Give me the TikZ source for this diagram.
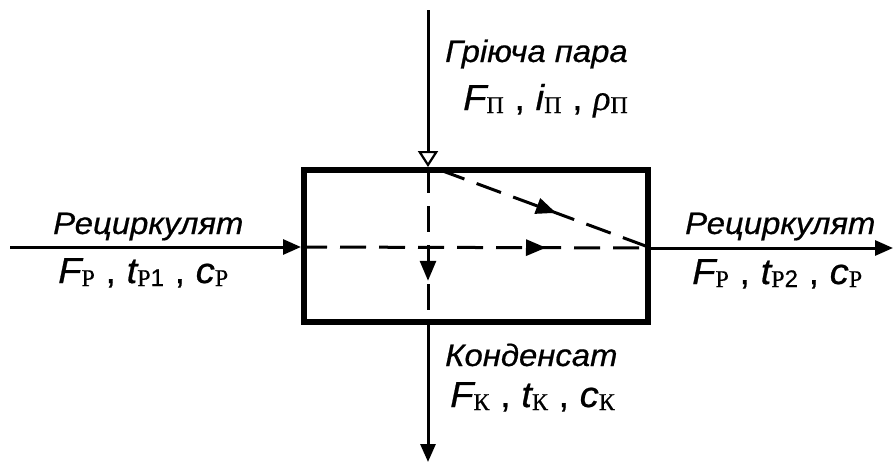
\documentclass[tikz,border=0pt]{standalone}
\usepackage{fontspec}
\setmainfont{Liberation Sans}
\newfontfamily\labfont[FakeStretch=1.06,FakeBold=0.6]{Liberation Sans}
\newfontfamily\digfont[FakeBold=0.4]{Liberation Sans}
\newfontfamily\subfont[FakeBold=0.4]{Liberation Serif}
\usetikzlibrary{arrows.meta,decorations.markings}
\newcommand\myqty[2]{{\labfont\itshape #1}{\subfont\fontsize{24}{24}\selectfont\raisebox{-3pt}{#2}}}
\newcommand\myqtyd[3]{{\labfont\itshape #1}{\subfont\fontsize{24}{24}\selectfont\raisebox{-3pt}{#2{\digfont #3}}}}
\newcommand\myqtyg[2]{{\subfont\itshape #1}{\subfont\fontsize{24}{24}\selectfont\raisebox{-3pt}{#2}}}
\begin{document}
\begin{tikzpicture}[x=1pt,y=-1pt,
  flow/.style={line width=3pt,-{Triangle[length=18pt,width=15pt]}},
  inflow/.style={line width=3pt,-{Triangle[open,length=16pt,width=20pt,line width=2.2pt]}},
  inner/.style={line width=3pt,dash pattern=on 26pt off 13pt,
    postaction={decorate},decoration={markings,mark=at position #1 with {\arrow{Triangle[length=20pt,width=16pt]}}}},
  flowname/.style={anchor=base west,inner sep=0pt,font=\labfont\itshape\fontsize{31}{34}\selectfont},
  flowvals/.style={anchor=base west,inner sep=0pt,font=\labfont\fontsize{36}{40}\selectfont},
  vessel/.style={draw,line width=6pt,minimum width=344pt,minimum height=152pt,inner sep=0pt}]
\useasboundingbox (0,0) rectangle (895,463);
\node[vessel] (b) at (476,246) {};
\coordinate (tin) at (428,10);
\coordinate (lin) at (10,247);
\coordinate (rout) at (893,248);
\coordinate (bout) at (428,462);
\coordinate (bt) at (b.north -| tin);
\coordinate (bb) at (b.south -| tin);
\coordinate (bl) at (b.west |- lin);
\coordinate (br) at (b.east |- rout);
\draw[inflow] (tin) -- (bt);
\draw[flow] (lin) -- (bl);
\draw[flow] (br) -- (rout);
\draw[flow] (bb) -- (bout);
\draw[inner=0.70] (bl) -- (br);
\draw[inner=0.72] (bt) -- (bb);
\draw[inner=0.55] ([xshift=12pt,yshift=-3pt]bt) -- (br);
\node[flowname] (t1) at (445,62) {Гріюча пара};
\node[flowvals] (t2) at (463,110) {\myqty{F}{П} , \myqty{i}{П} , \myqtyg{ρ}{П}};
\node[flowname] (l1) at (53,234) {Рециркулят};
\node[flowvals] (l2) at (58,283) {\myqty{F}{Р} , \myqtyd{t}{Р}{1} , \myqty{c}{Р}};
\node[flowname] (r1) at (685,234) {Рециркулят};
\node[flowvals] (r2) at (692,284) {\myqty{F}{Р} , \myqtyd{t}{Р}{2} , \myqty{c}{Р}};
\node[flowname] (d1) at (445,366) {Конденсат};
\node[flowvals] (d2) at (450,407) {\myqty{F}{К} , \myqty{t}{К} , \myqty{c}{К}};
\end{tikzpicture}
\end{document}
